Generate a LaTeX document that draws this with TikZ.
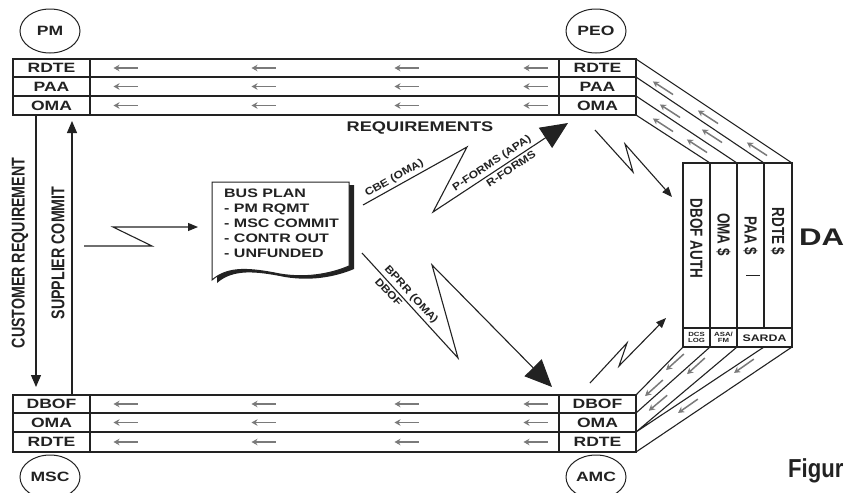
\documentclass[tikz,border=0pt]{standalone}
\usepackage{fontspec}
\setmainfont{Liberation Sans}
\newfontfamily\fW{Liberation Sans}[FakeStretch=1.3]
\newfontfamily\fN{Liberation Sans}[FakeStretch=0.77]
\newfontfamily\fD{Liberation Sans}[FakeStretch=1.15]
\newfontfamily\fC{Liberation Sans}[FakeStretch=0.85]
\usetikzlibrary{arrows.meta,shapes.geometric,calc}
\definecolor{ink}{HTML}{222222}
\definecolor{sgray}{HTML}{7A7A7A}
\tikzset{
  tbl/.style={draw=ink, line width=1.1pt},
  lab/.style={font=\fW\bfseries\fontsize{13.5}{15}\selectfont, text=ink, inner sep=0pt},
  ell/.style={ellipse, draw=ink, line width=1pt, minimum width=60pt, minimum height=44pt, lab},
  vlab/.style={font=\fN\bfseries\fontsize{18.5}{20}\selectfont, text=ink, inner sep=0pt},
  plab/.style={font=\fN\bfseries\fontsize{17.5}{19}\selectfont, text=ink, inner sep=0pt},
  dlab/.style={font=\fD\bfseries\fontsize{10.5}{12}\selectfont, text=ink, inner sep=2.5pt},
  tiny/.style={font=\fW\bfseries\fontsize{6}{7}\selectfont, text=ink, inner sep=0pt, align=center},
  sarrow/.style={draw=sgray, line width=1.5pt, -{Stealth[length=6pt,width=6.5pt]}},
  zz/.style={draw=ink, line width=1.1pt, line join=miter},
  bigtip/.style={-{Triangle[length=27pt,width=24pt]}},
  smalltip/.style={-{Triangle[length=10pt,width=8pt]}},
}
\newcommand\sarr[3]{\draw[sarrow] (#1,#2) ++(#3+180:12) -- ++(#3:24);}
\begin{document}
\begin{tikzpicture}[x=1pt,y=-1pt]
\useasboundingbox (0,0) rectangle (844,493);
\clip (0,0) rectangle (844,493);
\fill[white] (0,0) rectangle (844,493);

% ellipses
\node[ell] (pm) at (50,31) {PM};
\node[ell] (peo) at (596,31) {PEO};
\node[ell] (msc) at (50,477) {MSC};
\node[ell] (amc) at (596,477) {AMC};

% top table
\draw[tbl] (13,59) rectangle (636,115);
\draw[tbl] (13,77) -- (636,77) (13,96) -- (636,96) (90,59) -- (90,115) (559,59) -- (559,115);
\node[lab] (t1l) at (51.5,68) {RDTE};
\node[lab] (t2l) at (51.5,86.5) {PAA};
\node[lab] (t3l) at (51.5,105.5) {OMA};
\node[lab] (t1r) at (597.5,68) {RDTE};
\node[lab] (t2r) at (597.5,86.5) {PAA};
\node[lab] (t3r) at (597.5,105.5) {OMA};
\foreach \y in {68,86.5,105.5}{\foreach \x in {125.5,263.5,406.5,535.5}{\sarr{\x}{\y}{180}}}

% bottom table
\draw[tbl] (13,395) rectangle (636,452);
\draw[tbl] (13,413) -- (636,413) (13,432) -- (636,432) (90,395) -- (90,452) (559,395) -- (559,452);
\node[lab] (b1l) at (51.5,404) {DBOF};
\node[lab] (b2l) at (51.5,422.5) {OMA};
\node[lab] (b3l) at (51.5,442) {RDTE};
\node[lab] (b1r) at (597.5,404) {DBOF};
\node[lab] (b2r) at (597.5,422.5) {OMA};
\node[lab] (b3r) at (597.5,442) {RDTE};
\foreach \y in {404,422.5,442}{\foreach \x in {125.5,263.5,406.5,535.5}{\sarr{\x}{\y}{180}}}

% vertical arrows
\coordinate (cuA) at (36,115);
\coordinate (cuB) at (36,387);
\coordinate (suA) at (72,395);
\coordinate (suB) at (72,121);
\draw[zz,-{Triangle[length=12pt,width=10pt]}] (cuA) -- (cuB);
\draw[zz,-{Triangle[length=12pt,width=10pt]}] (suA) -- (suB);
\node[vlab, rotate=90] (cust) at (20,253) {CUSTOMER REQUIREMENT};
\node[vlab, rotate=90] (supp) at (58,253) {SUPPLIER COMMIT};

% lightning into bus plan
\coordinate (z0) at (84,246);
\coordinate (z1) at (152,246);
\coordinate (z2) at (113,227);
\coordinate (z3) at (198,227);
\draw[zz, smalltip] (z0) -- (z1) -- (z2) -- (z3);

% bus plan document
\fill[ink, shift={(5,3)}] (212,182) -- (349,182) -- (349,266) .. controls (335,272) and (310,279) .. (280,274) .. controls (250,268) and (228,266) .. (212,280) -- cycle;
\draw[fill=white, line width=1pt, draw=ink] (212,182) -- (349,182) -- (349,266) .. controls (335,272) and (310,279) .. (280,274) .. controls (250,268) and (228,266) .. (212,280) -- cycle;
\node[lab, font=\fW\bfseries\fontsize{12.3}{15}\selectfont, align=left, anchor=north west] (bus) at (224,188.5) {BUS PLAN\\- PM RQMT\\- MSC COMMIT\\- CONTR OUT\\- UNFUNDED};

% requirements
\node[lab, font=\fW\bfseries\fontsize{14}{16}\selectfont] (req) at (420,128) {REQUIREMENTS};

% upper big zigzag
\coordinate (u0) at (363,205);
\coordinate (u1) at (467,147);
\coordinate (u2) at (433,212);
\coordinate (u3) at (568,123);
\draw[zz, bigtip] (u0) -- node[dlab, above, sloped, pos=0.34] (cbe) {CBE (OMA)} (u1) -- (u2) -- node[dlab, above, sloped, pos=0.47] (pf) {P-FORMS (APA)} node[dlab, below, sloped, pos=0.55] (rf) {R-FORMS} (u3);

% lower big zigzag
\coordinate (l0) at (362,253);
\coordinate (l1) at (458,358);
\coordinate (l2) at (432,265);
\coordinate (l3) at (552,387);
\draw[zz, bigtip] (l0) -- node[dlab, above, sloped, pos=0.45] (bp) {BPRR (OMA)} node[dlab, below, sloped, pos=0.33] (db) {DBOF} (l1) -- (l2) -- (l3);

% right small zigzags
\coordinate (r0) at (595,130);
\coordinate (r1) at (633,172);
\coordinate (r2) at (625,144);
\coordinate (r3) at (672,197);
\draw[zz, smalltip] (r0) -- (r1) -- (r2) -- (r3);
\coordinate (s0) at (590,383);
\coordinate (s1) at (627,343);
\coordinate (s2) at (619,366);
\coordinate (s3) at (666,318);
\draw[zz, smalltip] (s0) -- (s1) -- (s2) -- (s3);

% panel
\draw[tbl] (683,163) rectangle (792,347);
\draw[tbl] (710,163) -- (710,347) (737,163) -- (737,347) (764,163) -- (764,328) (683,328) -- (792,328);
\node[plab, rotate=-90] (pdb) at (696.5,238.5) {DBOF AUTH};
\node[plab, rotate=-90] (pom) at (723.5,234.5) {OMA \$};
\node[plab, rotate=-90] (ppa) at (750.5,236) {PAA \$};
\node[plab, rotate=-90] (prd) at (778,231.5) {RDTE \$};
\draw[ink, line width=0.8pt] (746,275) -- (760,275);
\node[tiny] (dcs) at (696.5,337.5) {DCS\\[-1pt]LOG};
\node[tiny] (asa) at (723.5,337.5) {ASA/\\[-1pt]FM};
\node[lab, font=\fW\bfseries\fontsize{9.5}{11}\selectfont] (sarda) at (764.5,338) {SARDA};

% top diagonals
\draw[tbl] (636,59) -- (792,163) (636,77) -- (764,163) (636,96) -- (737,163) (636,115) -- (710,163);
\sarr{663}{88}{213} \sarr{708}{117}{213} \sarr{757}{149}{213}
\sarr{670}{111}{213} \sarr{712}{136}{213}
\sarr{663}{125}{213} \sarr{697}{146}{213}

% bottom diagonals
\draw[tbl] (683,347) -- (636,395) (710,347) -- (636,413) (737,347) -- (636,432) (764,347) -- (636,432) (792,347) -- (636,452);
\sarr{675}{362}{138} \sarr{696}{366}{138} \sarr{744}{366}{145}
\sarr{654}{388}{138} \sarr{658}{403}{140} \sarr{688}{406}{145}

% side texts
\node[lab, font=\fW\bfseries\fontsize{24}{26}\selectfont, anchor=west] (da) at (799,237) {DA};
\node[font=\fC\bfseries\fontsize{26}{28}\selectfont, text=ink, inner sep=0pt, anchor=base west] (fig) at (788,477) {Figure};
\end{tikzpicture}
\end{document}
